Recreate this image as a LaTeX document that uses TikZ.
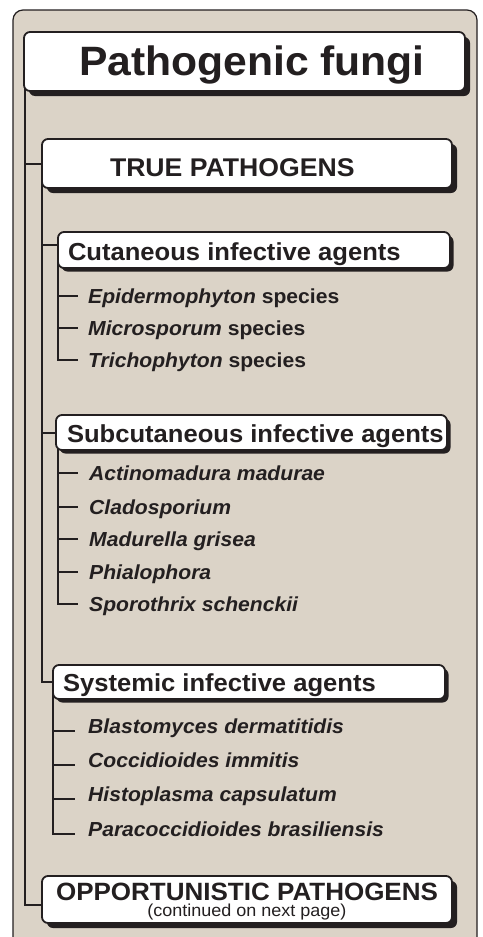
\documentclass[tikz,border=0pt]{standalone}
\usepackage{fontspec}
\setmainfont[FakeStretch=1.04]{Liberation Sans}
\usetikzlibrary{shadows}
\definecolor{paper}{HTML}{DBD3C7}
\definecolor{ink}{HTML}{231F20}
\pgfdeclarelayer{bg}
\pgfsetlayers{bg,main}
\newcommand\inbox[3]{\makebox[#1pt][l]{\hspace*{#2pt}#3}}
\begin{document}
\begin{tikzpicture}[x=1pt,y=-1pt,
  conn/.style={draw=ink, line width=2pt},
  boxbase/.style={draw=ink, fill=white, line width=1.8pt, rounded corners=6pt, inner sep=0pt, text=ink, text depth=0pt},
  bigbox/.style={boxbase, general shadow={fill=ink, shadow xshift=5pt, shadow yshift=-5pt}},
  smallbox/.style={boxbase, general shadow={fill=ink, shadow xshift=3.5pt, shadow yshift=-3.5pt}},
  headfont/.style={font=\fontsize{25.6}{30}\selectfont\bfseries},
  subfont/.style={font=\fontsize{24.6}{30}\selectfont\bfseries},
  item/.style={anchor=base west, inner sep=0pt, text=ink, font=\fontsize{20.3}{24}\selectfont\bfseries},
]
\useasboundingbox (0,0) rectangle (482,937);

% boxes
\node[bigbox, minimum width=441pt, minimum height=59pt, text height=27pt, font=\fontsize{41}{48}\selectfont\bfseries] (title) at (244.5,61.5) {\inbox{441}{55}{Pathogenic fungi}};
\node[bigbox, minimum width=410pt, minimum height=49pt, text height=25pt, headfont] (true) at (247,163.5) {\inbox{410}{68}{TRUE PATHOGENS}};
\node[smallbox, minimum width=392pt, minimum height=36pt, text height=20pt, subfont] (cut) at (254,250) {\inbox{392}{10}{Cutaneous infective agents}};
\node[smallbox, minimum width=391pt, minimum height=35pt, text height=19pt, subfont] (subc) at (251.5,432.5) {\inbox{391}{11}{Subcutaneous infective agents}};
\node[smallbox, minimum width=392pt, minimum height=34pt, text height=18pt, subfont] (sys) at (249,682) {\inbox{392}{10}{Systemic infective agents}};
\node[bigbox, minimum width=410pt, minimum height=47pt, align=center, font=\fontsize{25}{16}\selectfont\bfseries] (opp) at (247,899.5) {OPPORTUNISTIC PATHOGENS\\{\fontsize{17.3}{16}\selectfont\mdseries (continued on next page)}};

% items
\node[item] (c1) at (88,303) {\textit{Epidermophyton} species};
\node[item] (c2) at (88,335) {\textit{Microsporum} species};
\node[item] (c3) at (88,367) {\textit{Trichophyton} species};

\node[item] (s1) at (89,480) {\textit{Actinomadura madurae}};
\node[item] (s2) at (89,514) {\textit{Cladosporium}};
\node[item] (s3) at (89,546) {\textit{Madurella grisea}};
\node[item] (s4) at (89,579) {\textit{Phialophora}};
\node[item] (s5) at (89,611) {\textit{Sporothrix schenckii}};

\node[item] (y1) at (88,733) {\textit{Blastomyces dermatitidis}};
\node[item] (y2) at (88,767) {\textit{Coccidioides immitis}};
\node[item] (y3) at (88,801) {\textit{Histoplasma capsulatum}};
\node[item] (y4) at (88,836) {\textit{Paracoccidioides brasiliensis}};

\begin{pgfonlayer}{bg}
  \draw[fill=paper, draw=ink, line width=1.2pt, rounded corners=10pt] (13,10) rectangle (477,980);
  \coordinate (mx) at ([xshift=2pt]title.west);
  \coordinate (tx) at ([xshift=0.5pt]true.west);
  % main trunk
  \draw[conn] (mx) |- ([yshift=-5pt]opp.west);
  \draw[conn] (true.west -| mx) -- (true.west);
  % true trunk
  \draw[conn] (tx) |- (sys.west);
  \draw[conn] ([yshift=5pt]cut.west -| tx) -- ([yshift=5pt]cut.west);
  \draw[conn] (subc.west -| tx) -- (subc.west);
  % cutaneous
  \draw[conn] ([xshift=1pt]cut.west) |- ([xshift=-10pt,yshift=7pt]c3.base west);
  \foreach \n in {c1,c2}
    \draw[conn] ([xshift=-29pt,yshift=7pt]\n.base west) -- ([xshift=-10pt,yshift=7pt]\n.base west);
  % subcutaneous
  \draw[conn] ([xshift=3pt]subc.west) |- ([xshift=-11pt,yshift=7pt]s5.base west);
  \foreach \n in {s1,s2,s3,s4}
    \draw[conn] ([xshift=-30pt,yshift=7pt]\n.base west) -- ([xshift=-11pt,yshift=7pt]\n.base west);
  % systemic
  \draw[conn] ([xshift=1pt]sys.west) |- ([xshift=-13pt,yshift=2pt]y4.base west);
  \foreach \n in {y1,y2,y3}
    \draw[conn] ([xshift=-34pt,yshift=2pt]\n.base west) -- ([xshift=-13pt,yshift=2pt]\n.base west);
\end{pgfonlayer}
\end{tikzpicture}
\end{document}
